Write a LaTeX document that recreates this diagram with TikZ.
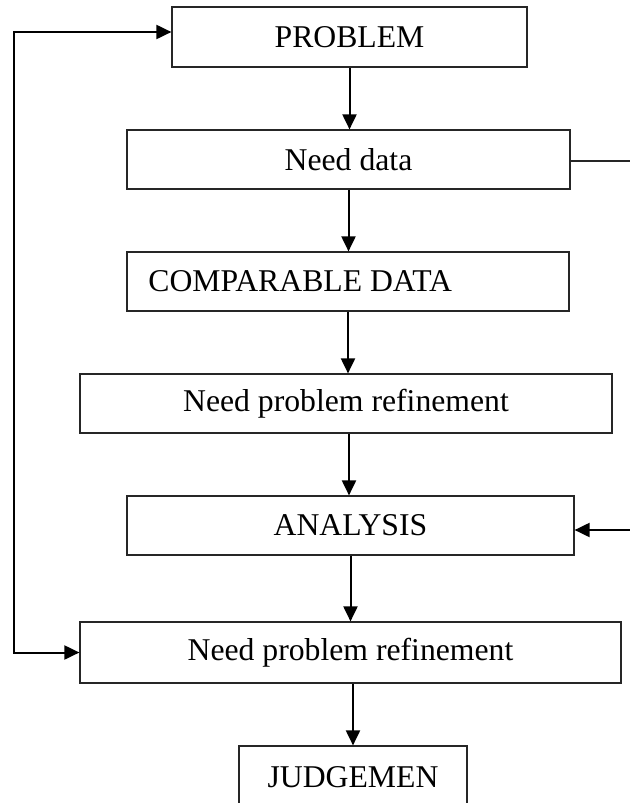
\documentclass[tikz,border=0pt]{standalone}
\usepackage{fontspec}
\setmainfont{Liberation Serif}
\usetikzlibrary{arrows.meta}
\begin{document}
\begin{tikzpicture}[x=0.5pt,y=-0.5pt,
  box/.style={draw=black!85, line width=0.6pt, rectangle, inner sep=0pt,
    font=\fontsize{15.85pt}{19pt}\selectfont},
  txt/.style={inner sep=0pt, font=\fontsize{15.85pt}{19pt}\selectfont},
  arr/.style={line width=1pt, -{Triangle[length=7.5pt,width=7pt]}},
  twoway/.style={line width=1pt, line join=miter,
    {Triangle[length=7.5pt,width=7pt]}-{Triangle[length=7.5pt,width=7pt]}},
  link/.style={line width=0.6pt, draw=black!85}]
\useasboundingbox (0,0) rectangle (630,803);

% flow boxes
\node[box, minimum width=177.5pt, minimum height=30pt]   (P)    at (349.5,37)  {PROBLEM};
\node[box, minimum width=221.5pt, minimum height=29.5pt] (ND)   at (348.5,159.5) {Need data};
\node[box, minimum width=221pt,   minimum height=29.5pt] (CD)   at (348,281.5) {};
\node[txt, anchor=west] (CDtext) at (148,281.5) {COMPARABLE DATA};
\node[box, minimum width=266pt,   minimum height=29.5pt] (NPR1) at (346,403.5) {Need problem refinement};
\node[box, minimum width=223.5pt, minimum height=29.5pt] (AN)   at (350.5,525.5) {ANALYSIS};
\node[box, minimum width=270.5pt, minimum height=30.5pt] (NPR2) at (350.5,652.5) {Need problem refinement};
\node[box, minimum width=114pt,   minimum height=31pt]   (JU)   at (353,777) {JUDGEMEN};

% free ends and corners
\coordinate (ndout) at (630,161);
\coordinate (anin)  at (630,530);
\coordinate (lt)    at (14,32);
\coordinate (lb)    at (14,652.5);

% main downward flow
\draw[arr] (P.south) -- (P.south |- ND.north);
\draw[arr] (ND.south) -- (ND.south |- CD.north);
\draw[arr] (CD.south) -- (CD.south |- NPR1.north);
\draw[arr] ([xshift=1.5pt]NPR1.south) -- ([xshift=1.5pt]NPR1.south |- AN.north);
\draw[arr] (AN.south) -- (AN.south |- NPR2.north);
\draw[arr] (JU.north |- NPR2.south) -- (JU.north);

% feedback loop on the left
\draw[twoway] ([yshift=2.5pt]P.west) -- (lt) -- (lb) -- (NPR2.west);

% connectors on the right
\draw[link] (ND.east |- ndout) -- (ndout);
\draw[arr] (anin) -- (AN.east |- anin);
\end{tikzpicture}
\end{document}
